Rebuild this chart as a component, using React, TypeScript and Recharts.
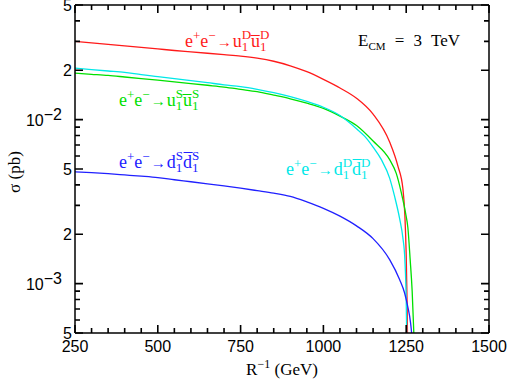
import { LineChart, Line, XAxis, YAxis, ReferenceLine } from 'recharts';

// sigma(e+e- -> KK quark pairs) vs R^-1, E_CM = 3 TeV

const uDx = [250, 300, 350, 400, 450, 500, 550, 600, 650, 700, 750, 800, 850, 900, 950, 1000, 1050, 1100, 1150, 1200, 1225, 1240, 1246, 1250, 1253, 1255];
const uDy = [0.03, 0.0294, 0.0288, 0.0282, 0.0276, 0.027, 0.0264, 0.0259, 0.0254, 0.0249, 0.0244, 0.0237, 0.0227, 0.0213, 0.0196, 0.0176, 0.0156, 0.0135, 0.0108, 0.0073, 0.0052, 0.0038, 0.0026, 0.0015, 0.0007, 0.0003];

const dDx = [250, 300, 350, 400, 450, 500, 550, 600, 650, 700, 750, 800, 850, 900, 950, 1000, 1050, 1100, 1125, 1150, 1175, 1200, 1215, 1230, 1240, 1246, 1250, 1253];
const dDy = [0.0206, 0.0202, 0.0198, 0.0194, 0.0188, 0.0183, 0.0178, 0.0173, 0.0168, 0.0163, 0.0159, 0.0153, 0.0146, 0.0138, 0.0129, 0.0119, 0.0106, 0.0088, 0.0079, 0.0068, 0.0057, 0.0044, 0.0034, 0.0025, 0.0019, 0.0014, 0.0008, 0.0003];

const uSx = [250, 300, 350, 400, 450, 500, 550, 600, 650, 700, 750, 800, 850, 900, 950, 1000, 1050, 1100, 1150, 1200, 1220, 1235, 1248, 1255, 1262, 1268, 1273, 1277];
const uSy = [0.0192, 0.0189, 0.0186, 0.0182, 0.0178, 0.0174, 0.017, 0.0166, 0.0162, 0.0158, 0.0153, 0.0148, 0.0141, 0.0134, 0.0126, 0.0117, 0.0105, 0.0092, 0.0074, 0.0057, 0.0047, 0.0036, 0.0027, 0.0022, 0.0014, 0.0009, 0.0005, 0.0003];

const dSx = [250, 300, 350, 400, 450, 500, 550, 600, 650, 700, 750, 800, 850, 900, 950, 1000, 1050, 1100, 1150, 1200, 1230, 1245, 1255, 1263, 1268, 1272];
const dSy = [0.00481, 0.00475, 0.00468, 0.0046, 0.00452, 0.00443, 0.0043, 0.00418, 0.00406, 0.00394, 0.00382, 0.00369, 0.00356, 0.0034, 0.00315, 0.00288, 0.00258, 0.00225, 0.00188, 0.0014, 0.00106, 0.00088, 0.00072, 0.00058, 0.00045, 0.0003];

const xMinor = [300, 350, 400, 450, 550, 600, 650, 700, 800, 850, 900, 950, 1050, 1100, 1150, 1200, 1300, 1350, 1400, 1450];
const xMajor = [250, 500, 750, 1000, 1250, 1500];
const yMinor = [0.0006, 0.0007, 0.0008, 0.0009, 0.003, 0.004, 0.006, 0.007, 0.008, 0.009, 0.03, 0.04];
const yMajor = [0.0005, 0.001, 0.002, 0.005, 0.01, 0.02, 0.05];
// label per major tick; a leading "^" means 10 to that power
const yMajorLabels = ['5', '^−3', '2', '5', '^−2', '2', '5'];

const zip = (xs: number[], ys: number[]) => xs.map((x, i) => ({ x, y: ys[i] }));

const RED = '#ff1a1a';
const CYAN = '#00e8e8';
const GREEN = '#00e000';
const BLUE = '#2020ff';

const SANS = '"Liberation Sans", Arial, sans-serif';
const SERIF = '"Liberation Serif", "Times New Roman", serif';

const X0 = 250;
const X1 = 1500;
const Y0 = 0.0005;
const Y1 = 0.05;
// plot box inside the 508x382 chart (margins + axis sizes below)
const LEFT = 75;
const TOP = 5;
const PLOT_W = 414;
const PLOT_H = 328;
const FRAME = { stroke: '#000', strokeWidth: 1.5 };

// same mapping as the chart's axes, used for the frame tick marks
const px = (v: number) => LEFT + ((v - X0) / (X1 - X0)) * PLOT_W;
const py = (v: number) => TOP + (Math.log(Y1 / v) / Math.log(Y1 / Y0)) * PLOT_H;

// eslint-disable-next-line @typescript-eslint/no-explicit-any
function LeftLabel({ x, y, payload }: any) {
  const i = yMajor.findIndex((v) => Math.abs(v / payload.value - 1) < 1e-6);
  const lab = yMajorLabels[i] ?? '';
  if (lab.startsWith('^')) {
    return (
      <text x={x - 13} y={y} dy="0.4em" textAnchor="end" fontFamily={SANS} fontSize={16} fill="#000">
        10<tspan dy={-6}>{lab.slice(1)}</tspan>
      </text>
    );
  }
  return (
    <text x={x - 3} y={y} dy="0.38em" textAnchor="end" fontFamily={SANS} fontSize={16} fill="#000">
      {lab}
    </text>
  );
}

// eslint-disable-next-line @typescript-eslint/no-explicit-any
function BottomLabel({ x, y, payload }: any) {
  return (
    <text x={x} y={y + 19} textAnchor="middle" fontFamily={SANS} fontSize={16} fill="#000">
      {payload.value}
    </text>
  );
}

function ProcLabel({ x, y, color, q, s }: { x: number; y: number; color: string; q: string; s: string }) {
  return (
    <text x={x} y={y} fill={color} fontFamily={SERIF} fontSize={18}>
      e<tspan dy={-7} fontSize={13}>+</tspan>
      <tspan dy={7}>e</tspan>
      <tspan dy={-7} fontSize={13}>−</tspan>
      <tspan dy={7} dx={1} fontSize={15}>→</tspan>
      <tspan dx={1}>{q}</tspan>
      <tspan dy={4} fontSize={13}>1</tspan>
      <tspan dx={-6.5} dy={-12} fontSize={13}>{s}</tspan>
      <tspan dy={8}>{q}&#x0305;</tspan>
      <tspan dy={4} fontSize={13}>1</tspan>
      <tspan dx={-6.5} dy={-12} fontSize={13}>{s}</tspan>
    </text>
  );
}

// inward tick marks on all four sides, one stroked path
function FrameTicks() {
  const parts: string[] = [];
  const addY = (vals: number[], len: number) =>
    vals.forEach((v) => {
      const y = py(v).toFixed(2);
      parts.push(`M${LEFT},${y}h${len}`);
      parts.push(`M${LEFT + PLOT_W},${y}h${-len}`);
    });
  const addX = (vals: number[], len: number) =>
    vals.forEach((v) => {
      const x = px(v).toFixed(2);
      parts.push(`M${x},${TOP + PLOT_H}v${-len}`);
      parts.push(`M${x},${TOP}v${len}`);
    });
  addY(yMajor, 8);
  addY(yMinor, 5);
  addX(xMajor, 8);
  addX(xMinor, 5);
  return <path d={parts.join('')} fill="none" stroke="#000" strokeWidth={1.6} />;
}

export default function App() {
  return (
    <div style={{ position: 'relative', width: 508, height: 382, background: '#fff' }}>
      <style>{'body{margin:0}'}</style>
      <LineChart width={508} height={382} margin={{ top: TOP, right: 508 - LEFT - PLOT_W, left: 0, bottom: 0 }}>
        <XAxis
          type="number"
          dataKey="x"
          domain={[X0, X1]}
          ticks={xMajor}
          interval={0}
          height={382 - TOP - PLOT_H}
          tickSize={0}
          tickMargin={0}
          tick={<BottomLabel />}
          tickLine={false}
          axisLine={FRAME}
        />
        <YAxis
          type="number"
          scale="log"
          domain={[Y0, Y1]}
          allowDataOverflow
          ticks={yMajor}
          interval={0}
          width={LEFT}
          tickSize={0}
          tickMargin={0}
          tick={<LeftLabel />}
          tickLine={false}
          axisLine={FRAME}
        />
        <ReferenceLine y={Y1} ifOverflow="visible" {...FRAME} />
        <ReferenceLine x={X1} ifOverflow="visible" {...FRAME} />
        <Line data={zip(uDx, uDy)} dataKey="y" type="monotone" stroke={RED} strokeWidth={1.3} dot={false} isAnimationActive={false} />
        <Line data={zip(uSx, uSy)} dataKey="y" type="monotone" stroke={GREEN} strokeWidth={1.3} dot={false} isAnimationActive={false} />
        <Line data={zip(dDx, dDy)} dataKey="y" type="monotone" stroke={CYAN} strokeWidth={1.3} dot={false} isAnimationActive={false} />
        <Line data={zip(dSx, dSy)} dataKey="y" type="monotone" stroke={BLUE} strokeWidth={1.3} dot={false} isAnimationActive={false} />
      </LineChart>
      <svg width={508} height={382} style={{ position: 'absolute', left: 0, top: 0, pointerEvents: 'none' }}>
        <FrameTicks />
        <text x={20} y={172} transform="rotate(-90 20 172)" textAnchor="middle" fontFamily={SERIF} fontSize={17}>
          σ (pb)
        </text>
        <text x={282} y={375} textAnchor="middle" fontFamily={SERIF} fontSize={17}>
          R<tspan dy={-7} fontSize={12}>−1</tspan>
          <tspan dy={7}> (GeV)</tspan>
        </text>
        <text x={358} y={46} fontFamily={SERIF} fontSize={17} wordSpacing={5}>
          E<tspan dy={4} fontSize={11}>CM</tspan>
          <tspan dy={-4}> = 3 TeV</tspan>
        </text>
        <ProcLabel x={185} y={47} color={RED} q="u" s="D" />
        <ProcLabel x={119} y={106} color={GREEN} q="u" s="S" />
        <ProcLabel x={119} y={168} color={BLUE} q="d" s="S" />
        <ProcLabel x={286} y={175} color={CYAN} q="d" s="D" />
      </svg>
    </div>
  );
}
